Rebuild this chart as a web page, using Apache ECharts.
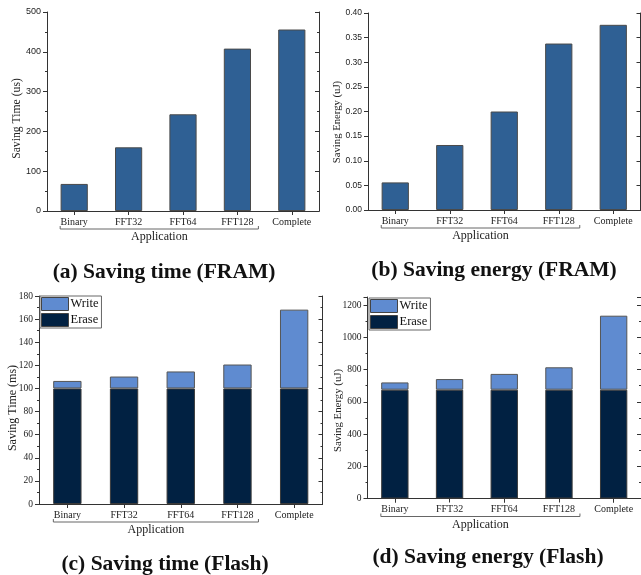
<!DOCTYPE html>
<html><head><meta charset="utf-8">
<script src="https://cdn.jsdelivr.net/npm/echarts@6/dist/echarts.min.js"></script>
<style>html,body{margin:0;padding:0;background:#fff}#c{width:641px;height:575px}</style>
</head><body><div id="c"></div>
<script>
const categories = ['Binary', 'FFT32', 'FFT64', 'FFT128', 'Complete'];
const framTime = [68, 160, 243, 408, 456];
const framEnergy = [0.056, 0.132, 0.200, 0.338, 0.376];
const flashTimeErase = [100, 100, 100, 100, 100];
const flashTimeWrite = [6.5, 10.3, 14.7, 20.7, 68.2];
const flashEnergyErase = [675, 675, 675, 675, 675];
const flashEnergyWrite = [45, 66, 98, 139, 459];
const captions = ['(a) Saving time (FRAM)', '(b) Saving energy (FRAM)', '(c) Saving time (Flash)', '(d) Saving energy (Flash)'];
const yTitles = ['Saving Time (us)', 'Saving Energy (uJ)', 'Saving Time (ms)', 'Saving Energy (uJ)'];
const xTitle = 'Application';
const legendNames = ['Write', 'Erase'];
const yRanges = [[0, 500, 100], [0, 0.40, 0.05], [0, 180, 20], [0, 1250, 200]];

const SERIF = 'Liberation Serif';
const SANS = 'Liberation Sans';
const AX = '#333';
const grids = [
  {left: 47, top: 12, width: 272, height: 199},
  {left: 368, top: 13, width: 272.5, height: 197},
  {left: 39, top: 296, width: 283.5, height: 208},
  {left: 367.5, top: 297, width: 274, height: 201.5}
];
const labelFonts = [[SANS, 9], [SANS, 8.5], [SERIF, 9.5], [SERIF, 9.5]];
const titleSizes = [11.7, 10.7, 12, 10.8];
const titlePos = [[17, 118.5], [337, 122], [12.5, 408], [338, 410.5]];
const minorSplit = [2, 0, 2, 2];

const xAxes = [], yAxes = [];
grids.forEach((g, i) => {
  xAxes.push({
    type: 'category', gridIndex: i, data: categories, position: 'bottom',
    axisLine: {show: true, lineStyle: {color: AX, width: 1}},
    axisTick: {show: true, alignWithLabel: true, length: 4, inside: false, lineStyle: {color: AX}},
    axisLabel: {fontFamily: SERIF, fontSize: 10, color: '#222', margin: 6},
    splitLine: {show: false}
  });
  xAxes.push({
    type: 'category', gridIndex: i, data: categories, position: 'top',
    axisLine: {show: true, lineStyle: {color: AX, width: 1}},
    axisTick: {show: true, alignWithLabel: true, length: 4, inside: true, lineStyle: {color: AX}},
    axisLabel: {show: false}, splitLine: {show: false}
  });
  const r = yRanges[i];
  const common = {
    type: 'value', gridIndex: i, min: r[0], max: r[1], interval: r[2],
    axisLine: {show: true, lineStyle: {color: AX, width: 1}},
    splitLine: {show: false},
    minorTick: {show: minorSplit[i] > 0, splitNumber: minorSplit[i] || 5, length: 2, lineStyle: {color: AX}}
  };
  yAxes.push(Object.assign({}, common, {
    position: 'left',
    axisTick: {show: true, length: 4, inside: false, lineStyle: {color: AX}},
    axisLabel: {fontFamily: labelFonts[i][0], fontSize: labelFonts[i][1], color: '#222', margin: 6,
      showMaxLabel: i !== 3,
      formatter: i === 1 ? (v => v.toFixed(2)) : (v => String(v))}
  }));
  yAxes.push(Object.assign({}, common, {
    position: 'right',
    axisTick: {show: true, length: 4, inside: true, lineStyle: {color: AX}},
    axisLabel: {show: false}
  }));
});

const FRAM_COLOR = '#2f6094';
const ERASE_COLOR = '#012142';
const WRITE_COLOR = '#5f8bd0';
const barBase = {type: 'bar', barWidth: '50%', animation: false};
const series = [
  Object.assign({}, barBase, {name: 'FRAM time', xAxisIndex: 0, yAxisIndex: 0, data: framTime,
    itemStyle: {color: FRAM_COLOR, borderColor: '#4a4a4a', borderWidth: 1}}),
  Object.assign({}, barBase, {name: 'FRAM energy', xAxisIndex: 2, yAxisIndex: 2, data: framEnergy,
    itemStyle: {color: FRAM_COLOR, borderColor: '#4a4a4a', borderWidth: 1}}),
  Object.assign({}, barBase, {name: 'Erase', stack: 'c', xAxisIndex: 4, yAxisIndex: 4, data: flashTimeErase,
    itemStyle: {color: ERASE_COLOR, borderColor: '#3a3a3a', borderWidth: 1}}),
  Object.assign({}, barBase, {name: 'Write', stack: 'c', xAxisIndex: 4, yAxisIndex: 4, data: flashTimeWrite,
    itemStyle: {color: WRITE_COLOR, borderColor: '#555', borderWidth: 1}}),
  Object.assign({}, barBase, {name: 'Erase', stack: 'd', xAxisIndex: 6, yAxisIndex: 6, data: flashEnergyErase,
    itemStyle: {color: ERASE_COLOR, borderColor: '#3a3a3a', borderWidth: 1}}),
  Object.assign({}, barBase, {name: 'Write', stack: 'd', xAxisIndex: 6, yAxisIndex: 6, data: flashEnergyWrite,
    itemStyle: {color: WRITE_COLOR, borderColor: '#555', borderWidth: 1}})
];

const legendBase = {
  data: legendNames, orient: 'vertical', icon: 'rect', itemWidth: 27, itemHeight: 13, itemGap: 2,
  padding: [1, 3, 1, 1], borderColor: '#666', borderWidth: 1, backgroundColor: '#fff',
  textStyle: {fontFamily: SERIF, fontSize: 12.5, color: '#111', padding: [0, 0, 0, -3]},
  itemStyle: {borderColor: '#444', borderWidth: 1}, selectedMode: false
};
const legends = [
  Object.assign({}, legendBase, {left: 40, top: 296}),
  Object.assign({}, legendBase, {left: 369, top: 298})
];

const chart = echarts.init(document.getElementById('c'), null, {renderer: 'canvas'});
chart.setOption({
  backgroundColor: '#fff', animation: false,
  grid: grids, xAxis: xAxes, yAxis: yAxes, series: series, legend: legends
});

// decorations: captions, axis titles, brackets and "Application" labels
const capPos = [[164, 272], [494, 270.5], [165, 564], [488, 557]];
const graphics = [];
captions.forEach((t, i) => {
  graphics.push({type: 'text', x: capPos[i][0], y: capPos[i][1], style: {
    text: t, fontFamily: SERIF, fontWeight: 'bold', fontSize: 21.5, fill: '#111',
    textAlign: 'center', textVerticalAlign: 'middle'}});
});
yTitles.forEach((t, i) => {
  graphics.push({type: 'text', x: titlePos[i][0], y: titlePos[i][1], rotation: Math.PI / 2, style: {
    text: t, fontFamily: SERIF, fontSize: titleSizes[i], fill: '#222',
    textAlign: 'center', textVerticalAlign: 'middle'}});
});
grids.forEach((g, i) => {
  const x0 = chart.convertToPixel({xAxisIndex: 2 * i}, categories[0]) - 14;
  const x1 = chart.convertToPixel({xAxisIndex: 2 * i}, categories[3]) + 21;
  const yb = chart.convertToPixel({yAxisIndex: 2 * i}, 0) + 18;
  graphics.push({type: 'polyline', shape: {points: [[x0, yb - 3], [x0, yb], [x1, yb], [x1, yb - 3]]},
    style: {stroke: '#666', lineWidth: 1, fill: null}});
  graphics.push({type: 'text', x: (x0 + x1) / 2, y: yb + 8, style: {
    text: xTitle, fontFamily: SERIF, fontSize: 12, fill: '#222',
    textAlign: 'center', textVerticalAlign: 'middle'}});
});
chart.setOption({graphic: graphics});
</script></body></html>
